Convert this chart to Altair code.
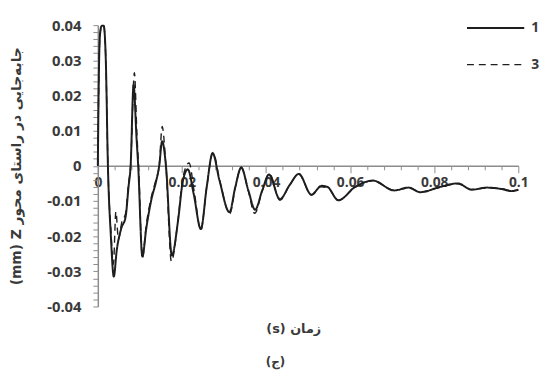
import altair as alt
import pandas as pd

# Series "1" (solid)
t1 = [0.0000, 0.0002, 0.0005, 0.0009, 0.0014, 0.0019, 0.0024, 0.0031, 0.0038, 0.0045,
      0.0056, 0.0066, 0.0073, 0.0078, 0.0085, 0.0092, 0.0096, 0.0106, 0.0115, 0.0127,
      0.0139, 0.0146, 0.0153, 0.0162, 0.0176, 0.0191, 0.0202, 0.0214, 0.0228, 0.0245,
      0.0259, 0.0273, 0.0289, 0.0313, 0.0327, 0.0341, 0.0358, 0.0374, 0.0391, 0.0407,
      0.0433, 0.0456, 0.0478, 0.0508, 0.0532, 0.0546, 0.0572, 0.0612, 0.0654, 0.0705,
      0.0739, 0.0767, 0.0814, 0.0856, 0.0889, 0.0925, 0.0960, 0.0984, 0.1000]
y1 = [0.000, 0.022, 0.037, 0.0398, 0.0398, 0.030, 0.000, -0.020, -0.0315, -0.024,
      -0.0177, -0.0146, -0.006, 0.000, 0.0230, 0.008, 0.000, -0.0258, -0.018, -0.0098,
      -0.0042, 0.000, 0.0070, 0.000, -0.0255, -0.0154, -0.0045, -0.0010, -0.0080, -0.0180,
      -0.0060, 0.0036, -0.0040, -0.0132, -0.0060, -0.0005, -0.0070, -0.0125, -0.0070, -0.0025,
      -0.0095, -0.0055, -0.0023, -0.0082, -0.0057, -0.0060, -0.0098, -0.0060, -0.0042, -0.0070,
      -0.0062, -0.0075, -0.0060, -0.0050, -0.0068, -0.0062, -0.0066, -0.0072, -0.0068]

# Series "3" (dashed)
t3 = [0.0000, 0.0002, 0.0005, 0.0009, 0.0014, 0.0019, 0.0024, 0.0031, 0.0037, 0.0043,
      0.0049, 0.0057, 0.0066, 0.0073, 0.0078, 0.0087, 0.0093, 0.0097, 0.0106, 0.0115,
      0.0127, 0.0137, 0.0146, 0.0153, 0.0162, 0.0175, 0.0191, 0.0202, 0.0217, 0.0230,
      0.0245, 0.0259, 0.0274, 0.0290, 0.0314, 0.0327, 0.0341, 0.0358, 0.0373, 0.0391,
      0.0408, 0.0433, 0.0456, 0.0478, 0.0508, 0.0530, 0.0546, 0.0572, 0.0612, 0.0654,
      0.0705, 0.0739, 0.0767, 0.0814, 0.0856, 0.0889, 0.0925, 0.0960, 0.0984, 0.1000]
y3 = [0.000, 0.022, 0.037, 0.0398, 0.0398, 0.030, 0.000, -0.018, -0.028, -0.013,
      -0.021, -0.016, -0.0135, -0.005, 0.000, 0.0265, 0.009, 0.000, -0.0262, -0.017,
      -0.0090, -0.0045, 0.000, 0.0112, 0.000, -0.0272, -0.0150, -0.0035, 0.0008, -0.0080,
      -0.0182, -0.0060, 0.0038, -0.0042, -0.0136, -0.0062, -0.0004, -0.0072, -0.0135, -0.0072,
      -0.0022, -0.0098, -0.0055, -0.0024, -0.0083, -0.0060, -0.0062, -0.0098, -0.0061, -0.0043,
      -0.0070, -0.0063, -0.0074, -0.0061, -0.0051, -0.0067, -0.0063, -0.0065, -0.0071, -0.0068]

series_names = ["1", "3"]
x_ticks = [round(0.004 * i, 3) for i in range(26)]
y_ticks = [round(-0.04 + 0.002 * i, 3) for i in range(41)]

# Titles written in visual order so that the right-to-left layout matches the figure
x_title = "(s) " + "زمان"
y_title = "(mm) Z " + "جابه‌جایی در راستای محور"
caption = "(ج)"

df = pd.concat([
    pd.DataFrame({"t": t1, "y": y1, "s": series_names[0]}),
    pd.DataFrame({"t": t3, "y": y3, "s": series_names[1]}),
])

W, H = 426, 285
LBL = "#3a3a3a"
AX = "#8c8c8c"

x_axis = alt.Axis(
    values=x_ticks,
    labelExpr="abs(datum.value*50 - round(datum.value*50)) < 1e-6 ? '' + datum.value : ''",
    tickSize={"condition": {"test": "abs(datum.value*50 - round(datum.value*50)) < 1e-6", "value": 7}, "value": 4},
    offset=-H / 2,
    grid=False,
    domainColor=AX, domainWidth=1.5, tickColor=AX, tickWidth=1,
    labelColor=LBL, labelFont="Open Sans", labelFontWeight="bold", labelFontSize=14,
    labelPadding=3, labelFlush=False, labelOverlap=False,
    title=x_title, titleFont="DejaVu Sans", titleFontWeight="bold", titleFontSize=13,
    titleColor=LBL, titleX=198, titleY=165, titleAlign="center", titleBaseline="middle",
)

y_axis = alt.Axis(
    values=y_ticks,
    labelExpr="abs(datum.value*100 - round(datum.value*100)) < 1e-6 ? '' + datum.value : ''",
    tickSize=5,
    grid=False,
    domainColor=AX, domainWidth=1.5, tickColor=AX, tickWidth=1,
    labelColor=LBL, labelFont="Open Sans", labelFontWeight="bold", labelFontSize=15,
    labelPadding=12, labelOverlap=False,
    title=y_title, titleFont="DejaVu Sans", titleFontWeight="bold", titleFontSize=14,
    titleColor=LBL, titleX=-82, titleY=H / 2, titleAngle=270,
    titleAlign="center", titleBaseline="middle",
)

lines = alt.Chart(df).mark_line(interpolate="monotone", color="#1e1e1e").encode(
    x=alt.X("t:Q", scale=alt.Scale(domain=[0, 0.1], nice=False), axis=x_axis),
    y=alt.Y("y:Q", scale=alt.Scale(domain=[-0.04, 0.04], nice=False), axis=y_axis),
    strokeDash=alt.StrokeDash(
        "s:N",
        scale=alt.Scale(domain=series_names, range=[[1, 0], [7, 5]]),
        legend=alt.Legend(
            title=None, orient="none", legendX=373, legendY=-27,
            symbolType="stroke", symbolSize=3364, symbolStrokeWidth=2,
            symbolStrokeColor="#1e1e1e",
            labelFont="Open Sans", labelFontWeight="bold", labelFontSize=14,
            labelColor=LBL, labelOffset=6, rowPadding=-6,
        ),
    ),
    strokeWidth=alt.StrokeWidth(
        "s:N", scale=alt.Scale(domain=series_names, range=[2, 1.4]), legend=None
    ),
)

cap = alt.Chart(alt.Data(values=[{"c": caption}])).mark_text(
    font="DejaVu Sans", fontWeight="bold", fontSize=12, color=LBL
).encode(
    text="c:N", x=alt.value(180), y=alt.value(341)
)

chart = alt.layer(lines, cap).properties(
    width=W, height=H,
    autosize=alt.AutoSizeParams(type="none"),
    padding={"left": 91, "top": 15, "right": 24, "bottom": 62},
).configure_view(stroke=None)

chart.save("out.html", embed_options={"renderer": "svg", "actions": False})
